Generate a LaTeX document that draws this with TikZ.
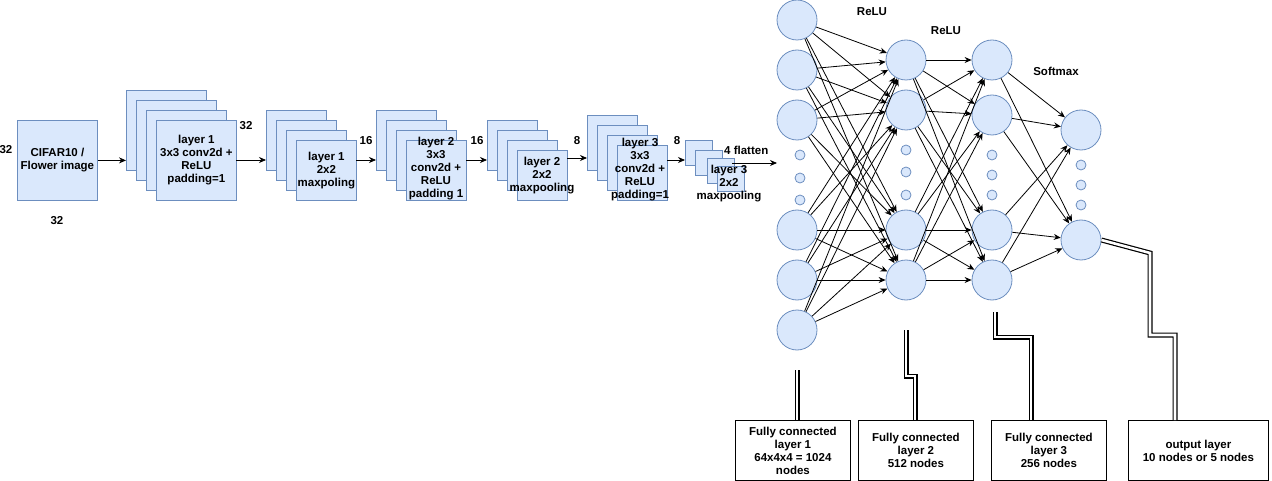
\documentclass[tikz,border=0pt]{standalone}
\usepackage{fontspec}
\setmainfont{Liberation Sans}
\usetikzlibrary{arrows.meta}
\definecolor{bfill}{HTML}{DAE8FC}
\definecolor{bdraw}{HTML}{6C8EBF}
\begin{document}
\begin{tikzpicture}[x=1pt,y=-1pt,
  every node/.style={font=\fontsize{11.5}{13}\selectfont\bfseries, inner sep=0pt},
  blk/.style={draw=bdraw, fill=bfill, anchor=north west, line width=0.8pt},
  neu/.style={circle, draw=bdraw, fill=bfill, minimum size=40pt, line width=0.8pt},
  dot/.style={circle, draw=bdraw, fill=bfill, minimum size=10pt, line width=0.8pt},
  txt/.style={align=center},
  arr/.style={-{Stealth[length=7pt,width=6pt]}, line width=0.8pt},
  link/.style={draw=black, double=white, double distance=2.6pt, line width=1.2pt},
  lab/.style={draw=black, fill=white, minimum width=115pt, minimum height=60pt, align=center, anchor=north west, line width=0.8pt}]
\useasboundingbox (0,0) rectangle (1272,481);
% input
\node[txt] (n32a) at (6,150) {32};
\node[blk, minimum width=80pt, minimum height=80pt] (in) at (17,120) {};
\node[txt] at (in.center) (intext) {CIFAR10 /\\Flower image};
\node[txt] (n32b) at (57,221) {32};
% conv1
\node[blk, minimum width=80pt, minimum height=80pt] (c1a) at (126,90) {};
\node[blk, minimum width=80pt, minimum height=80pt] (c1b) at (136,100) {};
\node[blk, minimum width=80pt, minimum height=80pt] (c1c) at (146,110) {};
\node[blk, minimum width=80pt, minimum height=80pt] (c1d) at (156,120) {};
\node[txt] (c1t) at (c1d.center) {layer 1\\3x3 conv2d +\\ReLU\\padding=1};
\draw[arr] (in.east) -- (c1a.west |- in.east);
\node[txt] (n32c) at (246,126) {32};
% pool1
\node[blk, minimum width=60pt, minimum height=60pt] (p1a) at (266,110) {};
\node[blk, minimum width=60pt, minimum height=60pt] (p1b) at (276,120) {};
\node[blk, minimum width=60pt, minimum height=60pt] (p1c) at (286,130) {};
\node[blk, minimum width=60pt, minimum height=60pt] (p1d) at (296,140) {};
\node[txt] (p1t) at (p1d.center) {layer 1\\2x2\\maxpoling};
\coordinate (c1o) at (236,160);
\draw[arr] (c1o) -- (p1a.west |- c1o);
\node[txt] (n16a) at (366,141) {16};
% conv2
\node[blk, minimum width=60pt, minimum height=60pt] (c2a) at (376,110) {};
\node[blk, minimum width=60pt, minimum height=60pt] (c2b) at (386,120) {};
\node[blk, minimum width=60pt, minimum height=60pt] (c2c) at (396,130) {};
\node[blk, minimum width=60pt, minimum height=60pt] (c2d) at (406,140) {};
\node[txt] (c2t) at (436,169) {layer 2\\3x3\\conv2d +\\ReLU\\padding 1};
\coordinate (p1o) at (356,160);
\draw[arr] (p1o) -- (c2a.west |- p1o);
\node[txt] (n16b) at (477,141) {16};
% pool2
\node[blk, minimum width=50pt, minimum height=50pt] (p2a) at (487,120) {};
\node[blk, minimum width=50pt, minimum height=50pt] (p2b) at (497,130) {};
\node[blk, minimum width=50pt, minimum height=50pt] (p2c) at (507,140) {};
\node[blk, minimum width=50pt, minimum height=50pt] (p2d) at (517,150) {};
\node[txt] (p2t) at (542,176) {layer 2\\2x2\\maxpooling};
\coordinate (c2o) at (466,160);
\draw[arr] (c2o) -- (p2a.west |- c2o);
\node[txt] (n8a) at (577,141) {8};
% conv3
\node[blk, minimum width=50pt, minimum height=55pt] (c3a) at (587,115) {};
\node[blk, minimum width=50pt, minimum height=55pt] (c3b) at (597,125) {};
\node[blk, minimum width=50pt, minimum height=55pt] (c3c) at (607,135) {};
\node[blk, minimum width=50pt, minimum height=55pt] (c3d) at (617,145) {};
\node[txt] (c3t) at (640,170) {layer 3\\3x3\\conv2d +\\ReLU\\padding=1};
\coordinate (p2o) at (567,158);
\draw[arr] (p2o) -- (c3a.west |- p2o);
\node[txt] (n8b) at (677,141) {8};
% pool3
\node[blk, minimum width=27pt, minimum height=25pt] (p3a) at (685,140) {};
\node[blk, minimum width=27pt, minimum height=25pt] (p3b) at (695,150) {};
\node[blk, minimum width=27pt, minimum height=25pt] (p3c) at (707,158) {};
\node[blk, minimum width=27pt, minimum height=25pt] (p3d) at (717,166) {};
\node[txt] (p3t) at (729,184) {layer 3\\2x2\\maxpooling};
\coordinate (c3o) at (667,160);
\draw[arr] (c3o) -- (p3a.west |- c3o);
\node[anchor=west] (flat) at (724,150) {4 flatten};
\coordinate (fs) at (732,163);
\coordinate (fe) at (777,163);
\draw[arr] (fs) -- (fe);
% network
\foreach \n/\y in {1/20,2/70,3/120,4/230,5/280,6/330} \node[neu] (a\n) at (797,\y) {};
\foreach \n/\y in {1/60,2/110,3/230,4/280} \node[neu] (b\n) at (906,\y) {};
\foreach \n/\y in {1/60,2/115,3/230,4/280} \node[neu] (c\n) at (992,\y) {};
\foreach \n/\y in {1/130,2/240} \node[neu] (d\n) at (1081,\y) {};
\foreach \n/\y in {1/155,2/178,3/200} \node[dot] (ad\n) at (800,\y) {};
\foreach \n/\y in {1/150,2/172,3/195} \node[dot] (bd\n) at (906,\y) {};
\foreach \n/\y in {1/155,2/175,3/195} \node[dot] (cd\n) at (992,\y) {};
\foreach \n/\y in {1/165,2/185,3/205} \node[dot] (dd\n) at (1081,\y) {};
\foreach \i in {1,...,6} \foreach \j in {1,...,4} \draw[arr] (a\i) -- (b\j);
\foreach \i in {1,...,4} \foreach \j in {1,...,4} \draw[arr] (b\i) -- (c\j);
\foreach \i in {1,...,4} \foreach \j in {1,2} \draw[arr] (c\i) -- (d\j);
\node (r1) at (872,12) {ReLU};
\node (r2) at (946,31) {ReLU};
\node (sm) at (1056,71) {Softmax};
% labels
\node[lab] (f1) at (735,420) {Fully connected\\layer 1\\64x4x4 = 1024\\nodes};
\node[lab] (f2) at (858,420) {Fully connected\\layer 2\\512 nodes};
\node[lab] (f3) at (991,420) {Fully connected\\layer 3\\256 nodes};
\node[lab, minimum width=140pt] (f4) at (1128,420) {output layer\\10 nodes or 5 nodes};
\coordinate (l1) at (797,370);
\draw[link] (l1) -- (f1.north -| l1);
\coordinate (l2) at (906,330);
\draw[link] (l2) -- (906,376) -- (915,376) -- (f2.north -| 915,0);
\coordinate (l3) at (995,312);
\draw[link] (l3) -- (995,337) -- (1031,337) -- (f3.north -| 1031,0);
\draw[link] (d2.east) -- (1150,253) -- (1150,335) -- (1175,335) -- (f4.north -| 1175,0);
\end{tikzpicture}
\end{document}
